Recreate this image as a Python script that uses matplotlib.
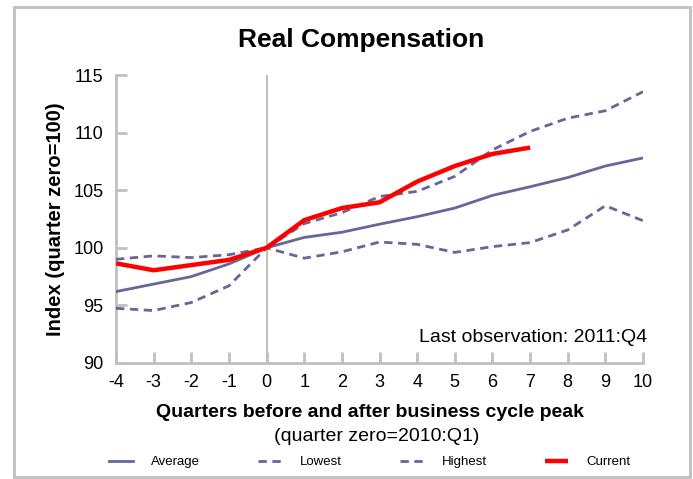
import matplotlib
matplotlib.use("Agg")
import matplotlib.pyplot as plt
from matplotlib.patches import Rectangle

plt.rcParams['font.family'] = ['Liberation Sans', 'DejaVu Sans']

# Data
quarters = [-4, -3, -2, -1, 0, 1, 2, 3, 4, 5, 6, 7, 8, 9, 10]
average = [96.2, 96.85, 97.5, 98.6, 100.0, 100.9, 101.35, 102.05, 102.7, 103.45,
           104.55, 105.3, 106.1, 107.1, 107.8]
lowest = [94.75, 94.55, 95.25, 96.7, 100.0, 99.1, 99.65, 100.5, 100.3, 99.6,
          100.1, 100.45, 101.55, 103.65, 102.35]
highest = [99.0, 99.3, 99.15, 99.4, 100.0, 102.1, 103.05, 104.45, 104.9, 106.2,
           108.5, 110.1, 111.25, 111.9, 113.55]
current_q = [-4, -3, -2, -1, 0, 1, 2, 3, 4, 5, 6, 7]
current = [98.65, 98.05, 98.5, 98.95, 100.0, 102.4, 103.45, 103.95, 105.75, 107.1,
           108.15, 108.7]

x_ticks = list(range(-4, 11))
y_ticks = [90, 95, 100, 105, 110, 115]

PURPLE = '#666699'
GREY = '#c0c0c0'

fig = plt.figure(figsize=(6.93, 4.79), dpi=100)
ax = fig.add_axes([0.1674, 0.2422, 0.7605, 0.6012])

ax.axvline(0, color=GREY, linewidth=1.5, zorder=1)

ax.plot(quarters, average, color=PURPLE, linewidth=2.0, label='Average', zorder=3)
ax.plot(quarters, lowest, color=PURPLE, linewidth=2.0, linestyle=(0, (3, 2)),
        label='Lowest', zorder=3)
ax.plot(quarters, highest, color=PURPLE, linewidth=2.0, linestyle=(0, (3, 2)),
        label='Highest', zorder=3)
ax.plot(current_q, current, color='#ff0000', linewidth=3.2, label='Current',
        zorder=4, solid_capstyle='butt')

ax.set_xlim(-4, 10)
ax.set_ylim(90, 115)
ax.set_xticks(x_ticks)
ax.set_xticklabels([str(t) for t in x_ticks])
ax.set_yticks(y_ticks)

for side in ['top', 'right']:
    ax.spines[side].set_visible(False)
for side in ['left', 'bottom']:
    ax.spines[side].set_color(GREY)
    ax.spines[side].set_linewidth(2.0)

ax.tick_params(direction='in', length=8, width=2, color=GREY,
               labelsize=13, pad=8)
ax.tick_params(axis='y', pad=9)

ax.set_title('Real Compensation', fontsize=19, fontweight='bold', pad=20,
             x=0.465)
ax.set_ylabel('Index (quarter zero=100)', fontsize=14.5, fontweight='bold',
              labelpad=6)
ax.set_xlabel('Quarters before and after business cycle peak', fontsize=14,
              fontweight='bold')
ax.xaxis.set_label_coords(0.482, -0.142)
fig.text(0.544, 0.088, '(quarter zero=2010:Q1)', ha='center', va='center',
         fontsize=14)

ax.text(1.0076, 0.09, 'Last observation: 2011:Q4', transform=ax.transAxes,
        ha='right', va='center', fontsize=14)

fig.legend(loc='center', bbox_to_anchor=(0.534, 0.035), ncol=4, frameon=False,
           fontsize=9.5, handlelength=1.76, handletextpad=1.4, columnspacing=4.4)

# Outer frame around the whole chart
fig.patches.append(Rectangle((0.0202, 0.004), 0.9755, 0.9816,
                             transform=fig.transFigure, fill=False,
                             edgecolor=GREY, linewidth=2.0, zorder=0))

fig.savefig('out.png', dpi=100, facecolor='white')
